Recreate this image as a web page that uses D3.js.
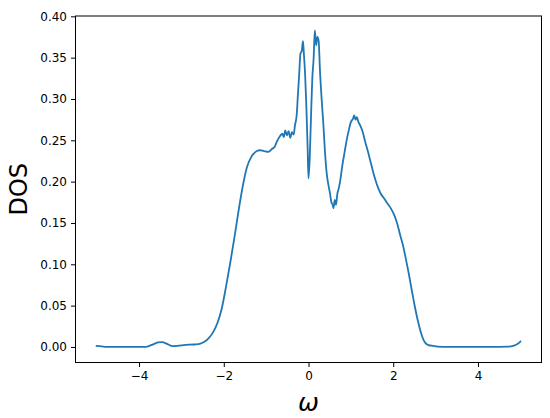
<!DOCTYPE html>
<html>
<head>
<meta charset="utf-8">
<script src="https://cdn.jsdelivr.net/npm/d3@7"></script>
<style>
  html, body { margin: 0; padding: 0; background: #fff; }
  svg { display: block; font-family: "DejaVu Sans", sans-serif; }
</style>
</head>
<body>
<svg id="chart" width="550" height="418"></svg>
<script>
const omega = [
  -5.00, -4.80, -4.50, -4.20, -3.85, -3.70, -3.55, -3.45, -3.35, -3.20,
  -3.10, -2.90, -2.70, -2.55, -2.45, -2.35, -2.25, -2.15, -2.05, -1.95,
  -1.85, -1.75, -1.65, -1.55, -1.45, -1.35, -1.25, -1.15, -1.05, -0.95,
  -0.85, -0.80, -0.75, -0.70, -0.66, -0.62, -0.58, -0.55, -0.51, -0.47,
  -0.43, -0.39, -0.35, -0.32, -0.28, -0.25, -0.22, -0.19, -0.16, -0.13,
  -0.11, -0.08, -0.05, -0.02, 0.00, 0.03, 0.06, 0.09, 0.12, 0.15,
  0.18, 0.21, 0.24, 0.27, 0.31, 0.35, 0.39, 0.43, 0.47, 0.51,
  0.54, 0.57, 0.59, 0.62, 0.65, 0.68, 0.72, 0.76, 0.80, 0.85,
  0.90, 0.95, 1.00, 1.05, 1.08, 1.11, 1.14, 1.18, 1.22, 1.28,
  1.34, 1.40, 1.46, 1.52, 1.58, 1.64, 1.70, 1.78, 1.86, 1.94,
  2.02, 2.09, 2.16, 2.23, 2.30, 2.37, 2.44, 2.51, 2.58, 2.65,
  2.72, 2.80, 2.90, 3.05, 3.30, 3.80, 4.30, 4.70, 4.85, 4.93,
  4.97, 5.00
];
const dos = [
  0.0012, 0.0002, 0.0000, 0.0002, 0.0002, 0.0025, 0.0055, 0.0058, 0.0040, 0.0010,
  0.0012, 0.0025, 0.0030, 0.0040, 0.0065, 0.0110, 0.0180, 0.0290, 0.0460, 0.0720,
  0.1010, 0.1320, 0.1650, 0.1950, 0.2180, 0.2300, 0.2360, 0.2380, 0.2370, 0.2360,
  0.2400, 0.2420, 0.2480, 0.2530, 0.2560, 0.2580, 0.2540, 0.2620, 0.2560, 0.2610,
  0.2530, 0.2600, 0.2570, 0.2680, 0.2800, 0.3050, 0.3300, 0.3550, 0.3580, 0.3700,
  0.3550, 0.3300, 0.2900, 0.2400, 0.2040, 0.2300, 0.2800, 0.3250, 0.3480, 0.3830,
  0.3650, 0.3750, 0.3700, 0.3350, 0.3000, 0.2700, 0.2350, 0.2100, 0.1960, 0.1850,
  0.1750, 0.1720, 0.1680, 0.1780, 0.1720, 0.1850, 0.1930, 0.2050, 0.2200, 0.2350,
  0.2500, 0.2620, 0.2720, 0.2760, 0.2800, 0.2750, 0.2780, 0.2720, 0.2680, 0.2600,
  0.2480, 0.2370, 0.2250, 0.2130, 0.2020, 0.1930, 0.1860, 0.1800, 0.1740, 0.1680,
  0.1600, 0.1500, 0.1360, 0.1230, 0.1060, 0.0880, 0.0680, 0.0490, 0.0320, 0.0180,
  0.0080, 0.0030, 0.0015, 0.0004, 0.0000, 0.0000, 0.0000, 0.0003, 0.0015, 0.0035,
  0.0050, 0.0065
];
const xTicks = [-4, -2, 0, 2, 4];
const yTicks = [0.00, 0.05, 0.10, 0.15, 0.20, 0.25, 0.30, 0.35, 0.40];
const xLabel = "ω";
const yLabel = "DOS";

const svg = d3.select("#chart");
const L = 75.5, R = 541.5, T = 16, B = 362.5;

const x = d3.scaleLinear().domain([-5.5, 5.5]).range([L, R]);
const y = d3.scaleLinear().domain([-0.0188, 0.4004]).range([B, T]);

const data = omega.map((w, i) => ({ w, d: dos[i] }));

const line = d3.line()
  .x(p => x(p.w))
  .y(p => y(p.d))
  .curve(d3.curveMonotoneX);

svg.append("path")
  .datum(data)
  .attr("fill", "none")
  .attr("stroke", "#1f77b4")
  .attr("stroke-width", 1.8)
  .attr("stroke-linejoin", "round")
  .attr("stroke-linecap", "square")
  .attr("d", line);

const xAxis = d3.axisBottom(x)
  .tickValues(xTicks)
  .tickSize(4.5)
  .tickPadding(4)
  .tickFormat(d => d < 0 ? "\u2212" + Math.abs(d) : String(d));
const gx = svg.append("g").attr("transform", `translate(0,${B})`).call(xAxis);

const yAxis = d3.axisLeft(y)
  .tickValues(yTicks)
  .tickSize(4.5)
  .tickPadding(4)
  .tickFormat(d3.format(".2f"));
const gy = svg.append("g").attr("transform", `translate(${L},0)`).call(yAxis);

[gx, gy].forEach(g => {
  g.select(".domain").remove();
  g.selectAll(".tick line").attr("stroke", "#000").attr("stroke-width", 1);
  g.selectAll(".tick text").attr("fill", "#000")
    .style("font-family", "'DejaVu Sans', sans-serif").style("font-size", "12px");
});

// frame
svg.append("rect")
  .attr("x", L).attr("y", T)
  .attr("width", R - L).attr("height", B - T)
  .attr("fill", "none").attr("stroke", "#000").attr("stroke-width", 1);

svg.append("text")
  .attr("x", (L + R) / 2).attr("y", 411)
  .attr("text-anchor", "middle")
  .style("font-family", "'DejaVu Sans', sans-serif")
  .style("font-style", "italic")
  .style("font-size", "25px")
  .text(xLabel);

svg.append("text")
  .attr("transform", `translate(27,${(T + B) / 2}) rotate(-90)`)
  .attr("text-anchor", "middle")
  .style("font-family", "'DejaVu Sans', sans-serif")
  .style("font-size", "24px")
  .text(yLabel);
</script>
</body>
</html>
